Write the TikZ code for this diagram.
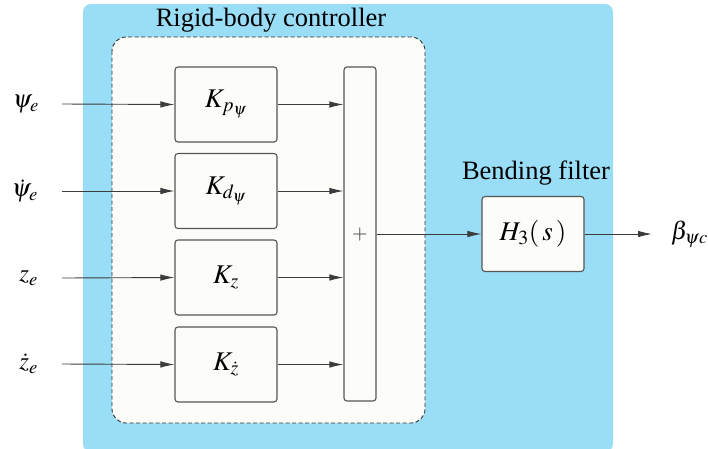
\documentclass[tikz,border=0pt]{standalone}
\usepackage{mathptmx}
\usepackage{fontspec}
\setmainfont{Liberation Serif}
\newfontfamily\tnr{Liberation Serif}
\usetikzlibrary{arrows.meta,calc}
\definecolor{bgblue}{RGB}{153,221,246}
\definecolor{paper}{RGB}{252,252,248}
\definecolor{edge}{RGB}{85,85,85}
\definecolor{wire}{RGB}{60,60,60}
\tikzset{
  txt/.style={font=\tnr\fontsize{26.5}{30}\selectfont, inner sep=0pt},
  sig/.style={font=\tnr\fontsize{25}{30}\selectfont, inner sep=0pt},
  gain/.style={draw=edge, line width=1.1pt, fill=paper, rounded corners=3pt,
    minimum width=102pt, minimum height=75pt, font=\tnr\fontsize{27}{30}\selectfont, inner sep=0pt},
  arr/.style={draw=wire, line width=0.9pt, -{Latex[length=14pt,width=6.5pt]}},
}
\begin{document}
\begin{tikzpicture}[x=1pt,y=-1pt]
\useasboundingbox (0,0) rectangle (708,448);
% blue background
\fill[bgblue, rounded corners=8pt] (83,4) rectangle (613,452);
% dashed group
\draw[draw={rgb,255:red,50;green,50;blue,50}, fill=paper, line width=0.9pt, dash pattern=on 4pt off 2.5pt, rounded corners=14pt] (112,37) rectangle (425,423);
\node[txt] (title) at (271,20) {Rigid-body controller};
% gains
\node[gain] (k1) at (226,104.5) {$K_{p_\psi}$};
\node[gain] (k2) at (226,191) {$K_{d_\psi}$};
\node[gain] (k3) at (226,277.5) {$K_{z}$};
\node[gain] (k4) at (226,364.5) {$K_{\dot z}$};
% sum bar
\node[draw=edge, line width=1.1pt, fill=paper, rounded corners=3pt, minimum width=32pt, minimum height=334pt, inner sep=0pt] (sum) at (360,234) {};
\node[txt, font=\fontsize{20}{22}\selectfont, text=wire] (plus) at (360,234) {$+$};
% filter
\node[gain] (h3) at (533,234) {$H_3(\,s\,)$};
\node[txt] (bf) at (536,173) {Bending filter};
% inputs
\node[sig, anchor=east] (in1) at (39,104) {$\psi_e$};
\node[sig, anchor=east] (in2) at (38,191) {$\dot\psi_e$};
\node[sig, anchor=east] (in3) at (38,278) {$z_e$};
\node[sig, anchor=east] (in4) at (38,364) {$\dot z_e$};
\node[sig, anchor=west] (out) at (671,234) {$\beta_{\psi c}$};
% connectors
\draw[arr] ([xshift=23pt]in1.east) -- (k1.west);
\draw[arr] ([xshift=24pt]in2.east) -- (k2.west);
\draw[arr] ([xshift=24pt]in3.east) -- (k3.west);
\draw[arr] ([xshift=24pt]in4.east) -- (k4.west);
\draw[arr] (k1.east) -- (k1.east -| sum.west);
\draw[arr] (k2.east) -- (k2.east -| sum.west);
\draw[arr] (k3.east) -- (k3.east -| sum.west);
\draw[arr] (k4.east) -- (k4.east -| sum.west);
\draw[arr] (sum.east |- h3.west) -- (h3.west);
\draw[arr] (h3.east) -- ([xshift=-19pt]out.west);
\end{tikzpicture}
\end{document}
